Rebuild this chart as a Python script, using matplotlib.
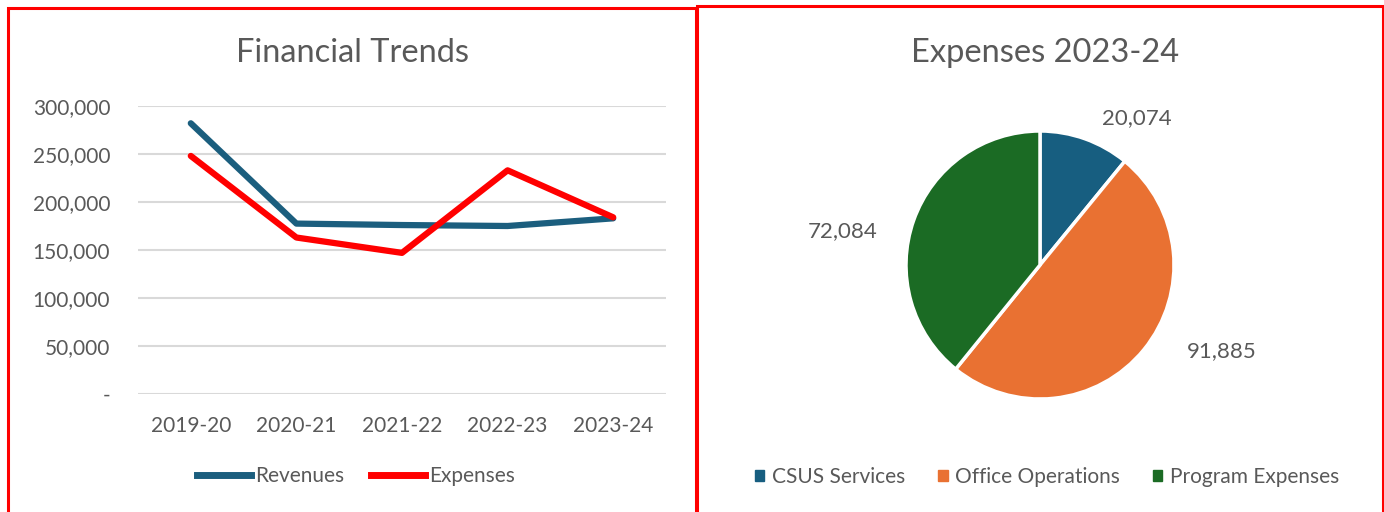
import matplotlib
matplotlib.use("Agg")
import matplotlib.pyplot as plt
from matplotlib.lines import Line2D
from matplotlib.patches import Patch, Rectangle
from matplotlib.ticker import FuncFormatter

plt.rcParams["font.family"] = ["Lato", "DejaVu Sans"]

years = ["2019-20", "2020-21", "2021-22", "2022-23", "2023-24"]
revenues = [282000, 177500, 176000, 175000, 183000]
expenses = [248000, 163000, 147000, 233000, 184043]

pie_labels = ["CSUS Services", "Office Operations", "Program Expenses"]
pie_values = [20074, 91885, 72084]

BLUE = "#1b5e7e"
RED = "#ff0000"
PIE_COLS = ["#175e80", "#e97132", "#1b6b24"]
TXT = "#595959"
GRID = "#d9d9d9"

W, H = 1384, 512
fig = plt.figure(figsize=(W / 100, H / 100), dpi=100)


def box(x0, y0, x1, y1):
    # pixel box (top-left origin) -> figure fraction rect
    return [x0 / W, 1 - y1 / H, (x1 - x0) / W, (y1 - y0) / H]


# red panel frames
for x0, y0, x1, y1 in [(8, 8, 696, 520), (697, 6, 1383, 520)]:
    fig.patches.append(Rectangle((x0 / W, 1 - y1 / H), (x1 - x0) / W, (y1 - y0) / H,
                                 transform=fig.transFigure, fill=False,
                                 edgecolor=RED, lw=2.2, zorder=10))

# --- line chart
ax = fig.add_axes(box(138, 106, 666, 394))
x = range(len(years))
ax.plot(x, revenues, color=BLUE, lw=4.5, solid_capstyle="round", solid_joinstyle="round",
        label="Revenues", zorder=3)
ax.plot(x, expenses, color=RED, lw=4.5, solid_capstyle="round", solid_joinstyle="round",
        label="Expenses", zorder=4)
ax.set_xlim(-0.5, len(years) - 0.5)
ax.set_ylim(0, 300000)
ax.set_yticks(range(0, 300001, 50000))
ax.yaxis.set_major_formatter(FuncFormatter(lambda v, p: "-" if v == 0 else f"{v:,.0f}"))
ax.set_xticks(list(x))
ax.set_xticklabels(years)
ax.grid(axis="y", color=GRID, lw=1.5)
ax.set_axisbelow(True)
for s in ax.spines.values():
    s.set_visible(False)
ax.tick_params(length=0, labelsize=15, labelcolor=TXT)
ax.tick_params(axis="y", pad=20)
ax.tick_params(axis="x", pad=16)
fig.text(352 / W, 1 - 53 / H, "Financial Trends", ha="center", va="center",
         fontsize=23.5, color=TXT)
fig.legend(handles=[Line2D([], [], color=BLUE, lw=5), Line2D([], [], color=RED, lw=5)],
           labels=["Revenues", "Expenses"], loc="center", bbox_to_anchor=(356 / W, 1 - 476 / H),
           ncol=2, frameon=False, fontsize=15, labelcolor=TXT, handlelength=2.6,
           handletextpad=0.2, columnspacing=1.3)

# --- pie chart
cx, cy, r = 1040, 265, 134
pax = fig.add_axes(box(cx - r, cy - r, cx + r, cy + r))
wedges, _ = pax.pie(pie_values, colors=PIE_COLS, startangle=90, counterclock=False,
                    radius=1, wedgeprops=dict(edgecolor="white", linewidth=2.5))
pax.set_xlim(-1, 1)
pax.set_ylim(-1, 1)
label_pos = [(0.72, 1.10), (1.36, -0.64), (-1.47, 0.25)]
for (lx, ly), v in zip(label_pos, pie_values):
    pax.text(lx, ly, f"{v:,}", ha="center", va="center", fontsize=16, color=TXT)
fig.text(1045 / W, 1 - 53 / H, "Expenses 2023-24", ha="center", va="center",
         fontsize=23.5, color=TXT)
fig.legend(handles=[Patch(color=c) for c in PIE_COLS], labels=pie_labels, loc="center",
           bbox_to_anchor=(1047 / W, 1 - 477 / H), ncol=3, frameon=False, fontsize=15,
           labelcolor=TXT, handlelength=0.45, handleheight=0.45, handletextpad=0.35,
           columnspacing=1.6)

fig.savefig("out.png", dpi=100)
